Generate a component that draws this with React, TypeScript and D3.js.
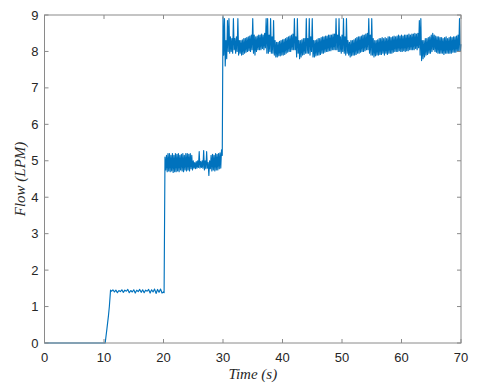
import React from "react";
import * as d3 from "d3";

// ---- data ----
const xTicks = [0, 10, 20, 30, 40, 50, 60, 70];
const yTicks = [0, 1, 2, 3, 4, 5, 6, 7, 8, 9];

// start-up and ramp (time, flow)
const rampTimes = [0, 10.2, 10.5, 10.75, 10.9, 11.1];
const rampValues = [0, 0, 0.4, 0.75, 1.0, 1.45];

// plateau ~1.4 LPM, 0.25 s steps from 11.25 s to 20.0 s
const plateau1 = [
  1.42, 1.46, 1.4, 1.45, 1.38, 1.44, 1.41, 1.46, 1.39, 1.45, 1.42, 1.47,
  1.38, 1.44, 1.4, 1.46, 1.37, 1.45, 1.41, 1.47, 1.39, 1.46, 1.38, 1.45,
  1.42, 1.47, 1.37, 1.46, 1.4, 1.48, 1.36, 1.47, 1.39, 1.48, 1.37, 1.4,
];

// ~5 LPM band, 0.25 s slots from 20.25 s to 29.75 s (upper / lower swing)
const band2Hi = [
  5.1, 5.15, 5.2,
  5.2, 5.15, 5.2, 5.15,
  5.2, 5.18, 5.2, 5.15,
  5.18, 5.2, 5.15, 5.2,
  5.2, 5.18, 5.2, 5.15,
  5.0, 4.95, 4.98, 5.0,
  5.25, 4.98, 5.0, 5.28,
  5.0, 5.25, 4.95, 5.0,
  5.15, 5.18, 5.15, 5.2,
  5.18, 5.2, 5.22, 5.3,
];
const band2Lo = [
  4.75, 4.7, 4.72,
  4.7, 4.72, 4.68, 4.7,
  4.7, 4.72, 4.7, 4.75,
  4.72, 4.7, 4.75, 4.72,
  4.75, 4.72, 4.78, 4.75,
  4.8, 4.78, 4.8, 4.82,
  4.8, 4.82, 4.8, 4.75,
  4.78, 4.8, 4.6, 4.78,
  4.72, 4.75, 4.72, 4.75,
  4.75, 4.78, 4.8, 5.15,
];

// ~8.2 LPM band, 0.25 s slots from 30.0 s to 69.75 s
const band3Hi = [
  8.95, 8.9, 8.3, 8.85,
  8.9, 8.4, 8.35, 8.9,
  8.35, 8.4, 8.9, 8.3,
  8.3, 8.32, 8.35, 8.36,
  8.38, 8.4, 8.42, 8.45,
  8.9, 8.45, 8.4, 8.42,
  8.45, 8.45, 8.48, 8.45,
  8.5, 8.9, 8.9, 8.45,
  8.9, 8.4, 8.85, 8.3,
  8.25, 8.25, 8.28, 8.3,
  8.32, 8.33, 8.35, 8.38,
  8.4, 8.42, 8.45, 8.48,
  8.9, 8.4, 8.9, 8.3,
  8.3, 8.32, 8.35, 8.35,
  8.9, 8.35, 8.9, 8.4,
  8.9, 8.3, 8.3, 8.32,
  8.35, 8.35, 8.38, 8.4,
  8.4, 8.42, 8.42, 8.45,
  8.45, 8.45, 8.48, 8.48,
  8.9, 8.45, 8.9, 8.4,
  8.45, 8.9, 8.4, 8.9,
  8.3, 8.25, 8.3, 8.3,
  8.32, 8.35, 8.38, 8.4,
  8.4, 8.42, 8.45, 8.45,
  8.48, 8.5, 8.9, 8.45,
  8.9, 8.35, 8.3, 8.3,
  8.32, 8.35, 8.35, 8.38,
  8.35, 8.38, 8.35, 8.4,
  8.4, 8.38, 8.4, 8.42,
  8.4, 8.42, 8.45, 8.42,
  8.45, 8.42, 8.45, 8.45,
  8.45, 8.48, 8.45, 8.48,
  8.48, 8.5, 8.48, 8.5,
  8.85, 8.9, 8.3, 8.3,
  8.35, 8.35, 8.38, 8.4,
  8.45, 8.5, 8.45, 8.42,
  8.4, 8.4, 8.38, 8.38,
  8.35, 8.38, 8.4, 8.35,
  8.38, 8.4, 8.38, 8.4,
  8.4, 8.42, 8.45, 8.9,
];
const band3Lo = [
  7.9, 7.6, 7.8, 8.0,
  7.95, 8.0, 7.95, 8.05,
  7.95, 8.0, 7.9, 7.95,
  7.9, 7.92, 7.95, 7.98,
  8.0, 8.02, 8.0, 8.05,
  7.95, 7.9, 8.0, 8.05,
  8.05, 8.05, 8.08, 8.05,
  8.1, 7.95, 7.95, 8.0,
  7.95, 7.95, 7.9, 7.85,
  7.85, 7.88, 7.88, 7.9,
  7.9, 7.92, 7.95, 7.98,
  8.0, 8.0, 8.05, 8.05,
  8.05, 7.85, 7.95, 7.8,
  7.85, 7.9, 7.92, 7.95,
  7.95, 7.95, 7.9, 8.0,
  7.85, 7.85, 7.88, 7.9,
  7.9, 7.92, 7.95, 7.95,
  7.98, 8.0, 8.0, 8.02,
  8.02, 8.05, 8.05, 8.05,
  8.05, 8.0, 8.0, 7.95,
  8.0, 7.95, 7.9, 7.95,
  7.9, 7.85, 7.88, 7.9,
  7.9, 7.92, 7.95, 7.95,
  7.98, 8.0, 8.0, 8.02,
  8.05, 8.05, 7.95, 7.9,
  7.9, 7.85, 7.88, 7.9,
  7.9, 7.92, 7.92, 7.95,
  7.9, 7.95, 7.92, 7.95,
  7.95, 7.95, 7.98, 8.0,
  8.0, 8.0, 8.02, 8.0,
  8.0, 8.02, 8.0, 8.02,
  8.02, 8.05, 8.05, 8.05,
  8.05, 8.08, 8.05, 8.1,
  7.9, 7.75, 7.8, 7.85,
  7.9, 7.92, 7.95, 7.95,
  8.0, 8.05, 8.0, 7.98,
  7.95, 7.95, 7.95, 7.95,
  7.92, 7.95, 7.95, 7.95,
  7.95, 7.95, 7.98, 7.98,
  7.98, 8.0, 8.0, 8.0,
];

type Pt = [number, number];

function buildSeries(): Pt[] {
  const pts: Pt[] = [];
  rampTimes.forEach((t, i) => pts.push([t, rampValues[i]]));
  plateau1.forEach((v, i) => pts.push([11.25 + i * 0.25, v]));
  pts.push([20.1, 1.38]);
  band2Hi.forEach((h, i) => {
    const t = 20.25 + i * 0.25;
    pts.push([t, h]);
    pts.push([t + 0.125, band2Lo[i]]);
  });
  band3Hi.forEach((h, i) => {
    const t = 30.0 + i * 0.25;
    pts.push([t, h]);
    pts.push([t + 0.125, band3Lo[i]]);
  });
  pts.push([70, 8.2]);
  return pts;
}

const W = 480;
const H = 386;
const M = { left: 44.5, right: 19, top: 15, bottom: 43 };

export default function App() {
  const x = d3.scaleLinear().domain([0, 70]).range([M.left, W - M.right]);
  const y = d3.scaleLinear().domain([0, 9]).range([H - M.bottom, M.top]);
  const line = d3
    .line<Pt>()
    .x((d) => x(d[0]))
    .y((d) => y(d[1]));
  const data = buildSeries();
  const x0 = x(0), x1 = x(70), y0 = y(0), y1 = y(9);
  const tl = 4;
  const axisColor = "#8a8a8a";
  const textColor = "#262626";
  return (
    <svg
      width={W}
      height={H}
      style={{ position: "absolute", left: 0, top: 0, background: "#fff" }}
    >
      <rect x={0} y={0} width={W} height={H} fill="#fff" />
      <path
        d={line(data) || ""}
        fill="none"
        stroke="#0072BD"
        strokeWidth={1.15}
        strokeLinejoin="round"
      />
      <g stroke={axisColor} strokeWidth={1} fill="none">
        <rect x={x0} y={y1} width={x1 - x0} height={y0 - y1} />
        {xTicks.map((t) => (
          <g key={"xt" + t}>
            <line x1={x(t)} x2={x(t)} y1={y0} y2={y0 - tl} />
            <line x1={x(t)} x2={x(t)} y1={y1} y2={y1 + tl} />
          </g>
        ))}
        {yTicks.map((t) => (
          <g key={"yt" + t}>
            <line x1={x0} x2={x0 + tl} y1={y(t)} y2={y(t)} />
            <line x1={x1} x2={x1 - tl} y1={y(t)} y2={y(t)} />
          </g>
        ))}
      </g>
      <g
        fill={textColor}
        fontFamily="'Liberation Sans', Arial, sans-serif"
        fontSize={13}
      >
        {xTicks.map((t) => (
          <text key={"xl" + t} x={x(t)} y={y0 + 19} textAnchor="middle">
            {t}
          </text>
        ))}
        {yTicks.map((t) => (
          <text key={"yl" + t} x={x0 - 6} y={y(t) + 4.5} textAnchor="end">
            {t}
          </text>
        ))}
      </g>
      <text
        x={(x0 + x1) / 2}
        y={379}
        textAnchor="middle"
        fontFamily="'Liberation Serif', 'Times New Roman', serif"
        fontStyle="italic"
        fontSize={15}
        fill={textColor}
      >
        Time (s)
      </text>
      <text
        transform={`translate(25, ${(y0 + y1) / 2}) rotate(-90)`}
        textAnchor="middle"
        fontFamily="'Liberation Serif', 'Times New Roman', serif"
        fontStyle="italic"
        fontSize={15}
        fill={textColor}
      >
        Flow (LPM)
      </text>
    </svg>
  );
}
